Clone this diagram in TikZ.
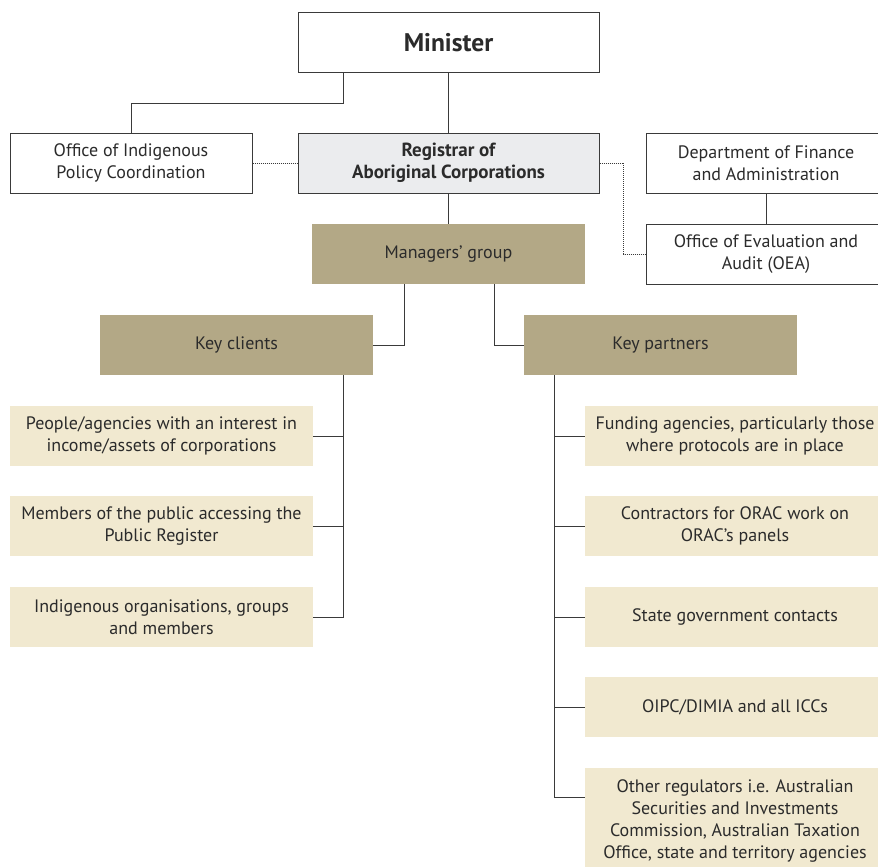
\documentclass[tikz,border=0pt]{standalone}
\usepackage{fontspec}
\setmainfont{PT Sans}
\usetikzlibrary{calc}
\definecolor{tan}{HTML}{B3A886}
\definecolor{cream}{HTML}{F1E9D0}
\definecolor{paleg}{HTML}{EBECEE}
\definecolor{ink}{HTML}{2B2B2B}
\definecolor{edge}{HTML}{3A3A3A}
\begin{document}
\begin{tikzpicture}[x=1pt,y=-1pt,
  base/.style={minimum height=60pt,inner sep=0pt,align=center,text=ink,
    font=\fontsize{18}{22}\selectfont},
  whitebox/.style={base,draw=edge,line width=1pt,fill=white},
  greybox/.style={base,draw=edge,line width=1pt,fill=paleg,font=\fontsize{19}{22}\selectfont\bfseries},
  tanbox/.style={base,fill=tan,minimum width=273pt},
  creambox/.style={base,fill=cream},
  conn/.style={draw=edge,line width=1pt},
  dotconn/.style={draw=edge,line width=0.9pt,dash pattern=on 1pt off 1pt}]
\clip (0,0) rectangle (878,867);
\fill[white] (0,0) rectangle (878,867);

\node[whitebox,minimum width=301pt,font=\fontsize{25.5}{28}\selectfont\bfseries] (min) at (448.5,43) {Minister};
\node[whitebox,minimum width=242pt] (oipc) at (131,163) {Office of Indigenous\\Policy Coordination};
\node[greybox,minimum width=301pt] (reg) at (448.5,163) {Registrar of\\Aboriginal Corporations};
\node[whitebox,minimum width=240pt] (dfa) at (766,163) {Department of Finance\\and Administration};
\node[whitebox,minimum width=240pt] (oea) at (766,254) {Office of Evaluation and\\Audit (OEA)};
\node[tanbox] (mgr) at (448.5,254) {Managers’ group};
\node[tanbox] (kc) at (236.5,345) {Key clients};
\node[tanbox] (kp) at (660.5,345) {Key partners};

\node[creambox,minimum width=303pt] (c1) at (161.5,436) {People/agencies with an interest in\\income/assets of corporations};
\node[creambox,minimum width=303pt] (c2) at (161.5,526) {Members of the public accessing the\\Public Register};
\node[creambox,minimum width=303pt] (c3) at (161.5,617) {Indigenous organisations, groups\\and members};

\node[creambox,minimum width=300pt] (p1) at (735,436) {Funding agencies, particularly those\\where protocols are in place};
\node[creambox,minimum width=300pt] (p2) at (735,526) {Contractors for ORAC work on\\ORAC’s panels};
\node[creambox,minimum width=300pt] (p3) at (735,617) {State government contacts};
\node[creambox,minimum width=300pt] (p4) at (735,707) {OIPC/DIMIA and all ICCs};
\node[creambox,minimum width=300pt,minimum height=106pt] (p5) at (735,821) {Other regulators i.e. Australian\\Securities and Investments\\Commission, Australian Taxation\\Office, state and territory agencies};

% connectors
\draw[conn] (min) -- (reg);
\draw[conn] ([xshift=-105.5pt]min.south) -- ++(0,30) -| (oipc.north);
\draw[dotconn] (oipc.east) -- (reg.west);
\draw[dotconn] (reg.east) -- ++(24,0) |- (oea.west);
\draw[conn] (dfa) -- (oea);
\draw[conn] (reg) -- (mgr);
\draw[conn] ([xshift=-44.5pt]mgr.south) |- (kc.east);
\draw[conn] ([xshift=45.5pt]mgr.south) |- (kp.west);

\coordinate (ks) at ([xshift=106.5pt]kc.south);
\draw[conn] (ks) |- (c3.east);
\foreach \c in {c1,c2} \draw[conn] (\c.east) -- (\c.east -| ks);

\coordinate (ps) at ([xshift=-106.5pt]kp.south);
\coordinate (p5b) at ($(p5.north west)+(0,30)$);
\draw[conn] (ps) |- (p5b);
\foreach \c in {p1,p2,p3,p4} \draw[conn] (\c.west) -- (\c.west -| ps);
\end{tikzpicture}
\end{document}
